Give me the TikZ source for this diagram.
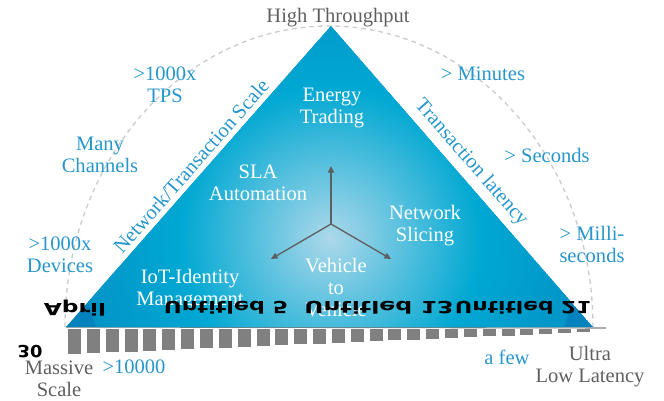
\documentclass[tikz,border=0pt]{standalone}
\usepackage{fontspec}
\setmainfont{Liberation Serif}
\newfontfamily\flipfont{DejaVu Sans}
\usepackage{tikz}
\usetikzlibrary{arrows.meta}

\definecolor{lblblue}{RGB}{38,150,204}
\definecolor{lblgray}{RGB}{95,95,95}
\definecolor{bargray}{RGB}{128,128,128}
\definecolor{arcgray}{RGB}{204,204,204}
\definecolor{trilight}{RGB}{172,216,234}
\definecolor{trimid}{RGB}{0,168,210}
\definecolor{tridark}{RGB}{4,130,190}
\pgfdeclareradialshading{triglow}{\pgfpoint{0bp}{0bp}}{color(0bp)=(trilight); color(15bp)=(trimid); color(34bp)=(tridark); color(50bp)=(tridark)}

\begin{document}
\begin{tikzpicture}[x=0.75pt,y=0.75pt,yscale=-1,xscale=1,
  every node/.style={font=\fontsize{15.4}{16.5}\selectfont},
  bluelbl/.style={text=lblblue, align=center, inner sep=0.75pt},
  graylbl/.style={text=lblgray, align=center, inner sep=0.75pt},
  whitelbl/.style={text=white, align=center, inner sep=0.75pt},
  fliplbl/.style={text=black, yscale=-1, inner sep=0.75pt, font=\flipfont\bfseries\fontsize{12.5}{13}\selectfont},
  spoke/.style={draw=lblgray, line width=1pt, -{Triangle[length=5pt,width=4.5pt]}}]
\useasboundingbox (0,0) rectangle (664,400);

%Corners of the triangle
\coordinate (apex) at (331,26);
\coordinate (bl) at (66,327);
\coordinate (br) at (593,327);
\coordinate (baseEnd) at (606,328);

%Dashed arc [id:arc1]
\draw [arcgray, line width=1pt, dash pattern=on 3.5pt off 3pt] (br) arc [start angle=0, end angle=-180, x radius=264, y radius=301];

%Straight Lines [id:base1]
\draw [bargray, line width=0.8pt] (bl) -- (baseEnd);

%Shape: Triangle [id:tri1]
\begin{scope}
\clip (apex) -- (bl) -- (br) -- cycle;
\fill [tridark] (apex) -- (bl) -- (br) -- cycle;
\shade [shading=triglow] (330,238) circle [radius=250];
\end{scope}

%Bars under the base
\foreach \i in {0,...,27}
  \fill [bargray] ({68+\i*18.85},329) rectangle ++(13,{25-\i*0.8});

%Spokes
\coordinate (hub) at (331,224);
\coordinate (tipN) at (331,166);
\coordinate (tipW) at (271,259);
\coordinate (tipE) at (391,259);
\draw [spoke] (hub) -- (tipN);
\draw [spoke] (hub) -- (tipW);
\draw [spoke] (hub) -- (tipE);

% Text Node
\node [graylbl] (topLbl) at (338,18) {High Throughput};
% Text Node
\node [bluelbl, rotate=48.6] (scaleLbl) at (191,166) {Network/Transaction Scale};
% Text Node
\node [bluelbl, rotate=-48.7] (latLbl) at (471,163) {Transaction latency};
% Text Node
\node [bluelbl] (tpsLbl) at (165,85) {>1000x\\TPS};
% Text Node
\node [bluelbl] (chanLbl) at (100,155) {Many\\Channels};
% Text Node
\node [bluelbl] (devLbl) at (60,255) {>1000x\\Devices};
% Text Node
\node [bluelbl] (minLbl) at (483,74) {> Minutes};
% Text Node
\node [bluelbl] (secLbl) at (547,155) {> Seconds};
% Text Node
\node [bluelbl] (msLbl) at (592,244) {> Milli-\\seconds};
% Text Node
\node [whitelbl] (energyLbl) at (332,108) {Energy\\Trading};
% Text Node
\node [whitelbl] (slaLbl) at (258,183) {SLA\\Automation};
% Text Node
\node [whitelbl] (sliceLbl) at (425,226) {Network\\Slicing};
% Text Node
\node [whitelbl] (v2vLbl) at (336,288) {Vehicle\\to\\Vehicle};
% Text Node
\node [whitelbl] (iotLbl) at (190,290) {IoT-Identity\\Management};
% Text Node
\node [graylbl] (massLbl) at (59,379) {Massive\\Scale};
% Text Node
\node [bluelbl] (bigLbl) at (134,367) {>10000};
% Text Node
\node [bluelbl] (fewLbl) at (507,357) {a few};
% Text Node
\node [graylbl] (ultraLbl) at (590,367) {Ultra\\Low Latency};

% Flipped Text Nodes
\node [fliplbl, xscale=1.4] (aprilLbl) at (75,308) {April};
\node [fliplbl, xscale=1.33] (untA) at (226,308) {Untitled 5};
\node [fliplbl, xscale=1.42] (untB) at (379,308) {Untitled 13};
\node [fliplbl, xscale=1.3] (untC) at (523,308) {Untitled 21};
\node [fliplbl, xscale=1.07] (dayLbl) at (30,352) {30};

\end{tikzpicture}
\end{document}
